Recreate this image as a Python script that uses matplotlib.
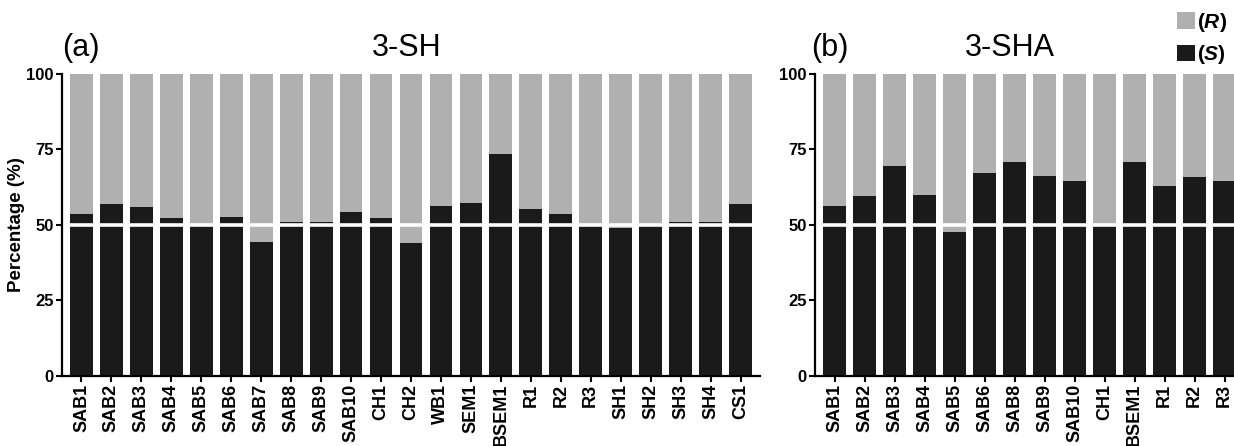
import matplotlib
matplotlib.use("Agg")
import matplotlib.pyplot as plt
from matplotlib.patches import Patch

plt.rcParams['font.family'] = ['Liberation Sans', 'DejaVu Sans']
plt.rcParams['mathtext.fontset'] = 'custom'
plt.rcParams['mathtext.it'] = 'Liberation Sans:bold:italic'
plt.rcParams['mathtext.bf'] = 'Liberation Sans:bold'
plt.rcParams['mathtext.rm'] = 'Liberation Sans:bold'

# ---- data ----
cats_a = ["SAB1", "SAB2", "SAB3", "SAB4", "SAB5", "SAB6", "SAB7", "SAB8", "SAB9",
          "SAB10", "CH1", "CH2", "WB1", "SEM1", "BSEM1", "R1", "R2", "R3",
          "SH1", "SH2", "SH3", "SH4", "CS1"]
s_a = [53.5, 56.7, 55.7, 52.1, 49.8, 52.6, 44.1, 51.0, 51.0,
       54.2, 52.1, 44.0, 56.2, 57.1, 73.5, 55.1, 53.5, 49.8,
       49.0, 49.8, 50.7, 51.0, 56.8]

cats_b = ["SAB1", "SAB2", "SAB3", "SAB4", "SAB5", "SAB6", "SAB8", "SAB9",
          "SAB10", "CH1", "BSEM1", "R1", "R2", "R3"]
s_b = [56.3, 59.5, 69.3, 59.7, 47.4, 67.2, 70.7, 66.1,
       64.4, 49.8, 70.7, 62.7, 65.8, 64.4]

yticks = [0, 25, 50, 75, 100]
col_R = "#b0b0b0"
col_S = "#1a1a1a"

W, H = 1234, 446
fig = plt.figure(figsize=(W / 100, H / 100), dpi=100)

def px_axes(left, right, top, bottom):
    return fig.add_axes([left / W, 1 - bottom / H, (right - left) / W, (bottom - top) / H])

def draw(ax, cats, s):
    x = list(range(len(cats)))
    r = [100 - v for v in s]
    ax.bar(x, s, width=0.76, color=col_S, linewidth=0, zorder=2)
    ax.bar(x, r, bottom=s, width=0.76, color=col_R, linewidth=0, zorder=2)
    ax.axhline(50, color='white', lw=2.6, zorder=3)
    ax.set_xlim(-0.65, len(cats) - 0.35)
    ax.set_ylim(0, 100)
    ax.set_yticks(yticks)
    ax.set_yticklabels([str(t) for t in yticks], fontsize=12, fontweight='bold')
    ax.set_xticks(x)
    ax.set_xticklabels(cats, rotation=90, fontsize=13, fontweight='bold')
    for sp in ['top', 'right']:
        ax.spines[sp].set_visible(False)
    for sp in ['left', 'bottom']:
        ax.spines[sp].set_linewidth(1.6)
        ax.spines[sp].set_zorder(4)
    ax.tick_params(axis='both', length=4, width=1.5, pad=2)

ax1 = px_axes(62, 760, 73.5, 375.7)
draw(ax1, cats_a, s_a)
ax1.set_ylabel("Percentage (%)", fontsize=13.5, fontweight='bold', labelpad=1)

ax2 = px_axes(815, 815 + 14.3 * 30, 73.5, 375.7)
draw(ax2, cats_b, s_b)

fig.text(62 / W, 1 - 48 / H, "(a)", fontsize=22, ha='left', va='center')
fig.text(407 / W, 1 - 48 / H, "3-SH", fontsize=22, ha='center', va='center')
fig.text(811 / W, 1 - 48 / H, "(b)", fontsize=22, ha='left', va='center')
fig.text(1010 / W, 1 - 48 / H, "3-SHA", fontsize=22, ha='center', va='center')

handles = [Patch(facecolor=col_R, edgecolor='none'), Patch(facecolor=col_S, edgecolor='none')]
labels = [r'$\mathbf{(}\mathit{R}\mathbf{)}$', r'$\mathbf{(}\mathit{S}\mathbf{)}$']
fig.legend(handles, labels, loc='upper left', bbox_to_anchor=(1177 / W, 1 - 11 / H),
           frameon=False, fontsize=15, handlelength=0.85, handleheight=0.85,
           handletextpad=0.1, labelspacing=0.45, borderpad=0, borderaxespad=0)

fig.savefig("out.png", dpi=100)
